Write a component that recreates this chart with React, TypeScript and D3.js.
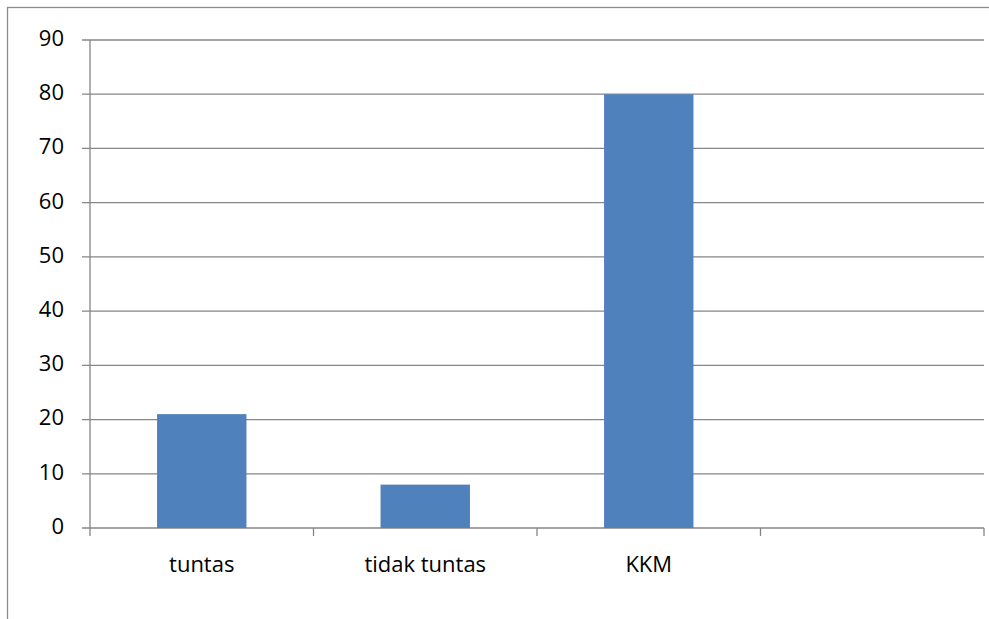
import React, { useEffect, useRef } from 'react';
import * as d3 from 'd3';

// chart values
const categories = ['tuntas', 'tidak tuntas', 'KKM', ''];
const values = [21, 8, 80, null];
const yTicks = [0, 10, 20, 30, 40, 50, 60, 70, 80, 90];

const App = () => {
  const ref = useRef<SVGSVGElement>(null);

  useEffect(() => {
    const svg = d3.select(ref.current);
    svg.selectAll('*').remove();

    const width = 989;
    const height = 619;
    const margin = { top: 40, right: 5, bottom: 91, left: 90 };
    const innerWidth = width - margin.left - margin.right;
    const innerHeight = height - margin.top - margin.bottom;
    const font = '"Open Sans", "Noto Sans", sans-serif';
    const gridColor = '#868686';

    // outer chart frame
    svg.append('rect')
      .attr('x', 7.5)
      .attr('y', 7.5)
      .attr('width', width + 20)
      .attr('height', height + 20)
      .attr('fill', 'white')
      .attr('stroke', '#8c8c8c')
      .attr('stroke-width', 1.3);

    const g = svg.append('g')
      .attr('transform', `translate(${margin.left},${margin.top})`);

    const x = d3.scaleBand()
      .domain(categories.map((c, i) => String(i)))
      .range([0, innerWidth])
      .padding(0);

    const y = d3.scaleLinear()
      .domain([0, 90])
      .range([innerHeight, 0]);

    // horizontal gridlines
    g.selectAll('.grid')
      .data(yTicks)
      .enter()
      .append('line')
      .attr('x1', -8)
      .attr('x2', innerWidth)
      .attr('y1', d => y(d))
      .attr('y2', d => y(d))
      .attr('stroke', gridColor)
      .attr('stroke-width', 1.3);

    // y axis line
    g.append('line')
      .attr('x1', 0)
      .attr('x2', 0)
      .attr('y1', 0)
      .attr('y2', innerHeight + 8)
      .attr('stroke', gridColor)
      .attr('stroke-width', 1.3);

    // y labels
    g.selectAll('.ylabel')
      .data(yTicks)
      .enter()
      .append('text')
      .attr('x', -26)
      .attr('y', d => y(d) - 2)
      .attr('dy', '0.36em')
      .attr('text-anchor', 'end')
      .attr('font-family', font)
      .attr('font-size', 22)
      .attr('fill', '#000')
      .text(d => d);

    // category tick marks at band boundaries
    const boundaries = categories.map((c, i) => x(String(i)) as number).concat([innerWidth]);
    g.selectAll('.xtick')
      .data(boundaries.slice(1))
      .enter()
      .append('line')
      .attr('x1', d => d)
      .attr('x2', d => d)
      .attr('y1', innerHeight)
      .attr('y2', innerHeight + 8)
      .attr('stroke', gridColor)
      .attr('stroke-width', 1.3);

    // bars
    const barW = x.bandwidth() * 0.4;
    g.selectAll('.bar')
      .data(values.map((v, i) => ({ v, i })).filter(d => d.v !== null))
      .enter()
      .append('rect')
      .attr('x', d => (x(String(d.i)) as number) + (x.bandwidth() - barW) / 2)
      .attr('width', barW)
      .attr('y', d => y(d.v as number))
      .attr('height', d => innerHeight - y(d.v as number))
      .attr('fill', '#4F81BD');

    // category labels
    g.selectAll('.xlabel')
      .data(categories)
      .enter()
      .append('text')
      .attr('x', (d, i) => (x(String(i)) as number) + x.bandwidth() / 2)
      .attr('y', innerHeight + 44)
      .attr('text-anchor', 'middle')
      .attr('font-family', font)
      .attr('font-size', 22)
      .attr('fill', '#000')
      .text(d => d);
  }, []);

  return (
    <svg
      ref={ref}
      width={989}
      height={619}
      style={{ position: 'absolute', left: 0, top: 0, display: 'block' }}
    />
  );
};

export default App;
